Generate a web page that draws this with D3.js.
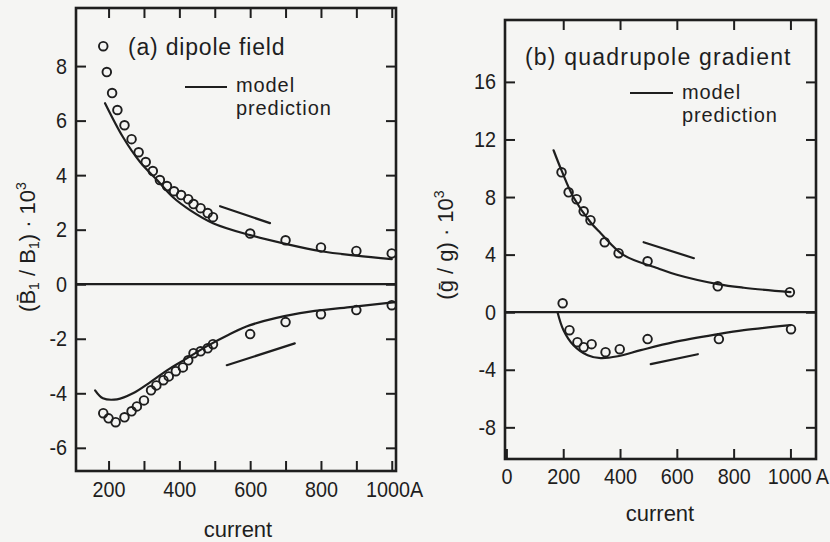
<!DOCTYPE html>
<html>
<head>
<meta charset="utf-8">
<script src="https://cdn.jsdelivr.net/npm/d3@7"></script>
<style>
  html, body { margin: 0; padding: 0; background: #f5f5f3; }
  svg { display: block; }
  text { font-family: "Liberation Sans", Arial, sans-serif; fill: #1e1e1e; }
</style>
</head>
<body>
<svg id="chart" width="830" height="542"></svg>
<script>
// ---------------- DATA ----------------
// Panel (a): dipole field
const aUpperCurrent = [185,195,210,225,245,265,285,305,325,345,365,385,405,425,440,460,480,495,600,700,800,900,1000];
const aUpperValue   = [8.73,7.78,7.01,6.39,5.83,5.32,4.84,4.48,4.15,3.82,3.60,3.41,3.27,3.12,2.94,2.79,2.61,2.46,1.86,1.61,1.35,1.22,1.13];
const aLowerCurrent = [185,200,220,245,265,280,300,320,335,355,370,390,410,425,440,460,480,495,600,700,800,900,1000];
const aLowerValue   = [-4.73,-4.92,-5.06,-4.88,-4.66,-4.48,-4.26,-3.89,-3.71,-3.52,-3.38,-3.19,-3.05,-2.79,-2.53,-2.46,-2.35,-2.20,-1.83,-1.39,-1.10,-0.95,-0.77];
const aModelUpperCurrent = [190,241,289,337,382,430,495,600,700,800,900,1000];
const aModelUpperValue   = [6.64,5.39,4.48,3.82,3.19,2.72,2.24,1.80,1.48,1.21,1.05,0.92];
const aModelLowerCurrent = [162,184,224,269,317,365,421,478,538,600,741,882,1010];
const aModelLowerValue   = [-3.89,-4.18,-4.22,-4.00,-3.60,-3.16,-2.72,-2.27,-1.86,-1.50,-1.06,-0.84,-0.66];
const aArrowUpperCurrent = [515,656];
const aArrowUpperValue   = [2.86,2.24];
const aArrowLowerCurrent = [534,726];
const aArrowLowerValue   = [-2.97,-2.17];
const aYTicks = [-6,-4,-2,0,2,4,6,8];
const aXTicks = [200,300,400,500,600,700,800,900,1000];
const aXTickLabels = {200:"200",400:"400",600:"600",800:"800",1000:"1000A"};

// Panel (b): quadrupole gradient
const bUpperCurrent = [194,219,247,272,296,346,395,497,744,998];
const bUpperValue   = [9.72,8.33,7.85,7.01,6.39,4.86,4.10,3.54,1.80,1.39];
const bLowerCurrent = [198,222,250,272,300,349,399,497,748,1002];
const bLowerValue   = [0.62,-1.25,-2.08,-2.43,-2.22,-2.78,-2.57,-1.87,-1.87,-1.18];
const bModelUpperCurrent = [166,194,236,296,332,413,533,600,744,836,1000];
const bModelUpperValue   = [11.25,9.85,7.99,6.25,5.49,3.96,3.05,2.60,1.95,1.70,1.40];
const bModelLowerCurrent = [180,201,236,286,332,392,473,589,744,836,1000];
const bModelLowerValue   = [0,-1.25,-2.29,-2.99,-3.19,-3.06,-2.64,-2.08,-1.53,-1.25,-0.90];
const bArrowUpperCurrent = [483,660];
const bArrowUpperValue   = [4.86,3.75];
const bArrowLowerCurrent = [508,674];
const bArrowLowerValue   = [-3.61,-2.92];
const bYTicks = [-8,-4,0,4,8,12,16];
const bXTicks = [0,200,400,600,800,1000];
const bXTickLabels = {0:"0",200:"200",400:"400",600:"600",800:"800",1000:"1000\u2009A"};

// ---------------- DRAW ----------------
const ink = "#1e1e1e";
const sx = 0.9; // horizontal squeeze of tick digits (narrow typeface in the original)
const svg = d3.select("#chart");

function zip(xs, ys) { return xs.map((x, i) => [x, ys[i]]); }
const fmtY = d => String(d); // plain hyphen-minus as printed

function panel(cfg) {
  const g = svg.append("g");
  const x = d3.scaleLinear().domain(cfg.xDomain).range([cfg.left, cfg.right]);
  const y = d3.scaleLinear().domain(cfg.yDomain).range([cfg.bottom, cfg.top]);

  const fmtX = d => cfg.xLabels[d] !== undefined ? cfg.xLabels[d] : "";
  const ax = [
    g.append("g").attr("transform", `translate(0,${cfg.bottom})`)
      .call(d3.axisBottom(x).tickValues(cfg.xTicks).tickSize(-cfg.tick).tickPadding(cfg.xPad).tickFormat(fmtX)),
    g.append("g").attr("transform", `translate(0,${cfg.top})`)
      .call(d3.axisTop(x).tickValues(cfg.xTicks.filter(v => v > cfg.xDomain[0] + 5)).tickSize(-cfg.tick).tickFormat("")),
    g.append("g").attr("transform", `translate(${cfg.left},0)`)
      .call(d3.axisLeft(y).tickValues(cfg.yTicks).tickSize(-cfg.tick).tickPadding(9).tickFormat(fmtY)),
    g.append("g").attr("transform", `translate(${cfg.right},0)`)
      .call(d3.axisRight(y).tickValues(cfg.yTicks).tickSize(-cfg.tick).tickFormat(""))
  ];
  ax.forEach(a => {
    a.select(".domain").remove();
    a.selectAll(".tick line").attr("stroke", ink).attr("stroke-width", 2);
    a.selectAll(".tick text").attr("font-size", 22).attr("fill", ink)
      .attr("transform", `scale(${sx},1)`)
      .style("font-family", "'Liberation Sans', Arial, sans-serif");
  });
  ax[2].selectAll(".tick text").attr("x", -9 / sx);
  ax[0].selectAll(".tick text").filter(d => d === 1000)
    .attr("text-anchor", "end").attr("x", cfg.lastRight / sx);

  // frame
  g.append("rect").attr("x", cfg.left).attr("y", cfg.top)
    .attr("width", cfg.right - cfg.left).attr("height", cfg.bottom - cfg.top)
    .attr("fill", "none").attr("stroke", ink).attr("stroke-width", 2.6);

  // zero line
  g.append("line").attr("x1", cfg.left).attr("x2", cfg.right)
    .attr("y1", y(0)).attr("y2", y(0)).attr("stroke", ink).attr("stroke-width", 2.2);

  const line = d3.line().x(d => x(d[0])).y(d => y(d[1])).curve(d3.curveCatmullRom.alpha(0.5));
  cfg.curves.forEach(c => {
    g.append("path").attr("d", line(c)).attr("fill", "none")
      .attr("stroke", ink).attr("stroke-width", 2.2).attr("stroke-linecap", "round");
  });
  cfg.arrows.forEach(c => {
    g.append("path").attr("d", d3.line().x(d => x(d[0])).y(d => y(d[1]))(c)).attr("fill", "none")
      .attr("stroke", ink).attr("stroke-width", 2.2).attr("stroke-linecap", "round");
  });
  cfg.points.forEach(p => {
    g.selectAll(null).data(p).join("circle")
      .attr("cx", d => x(d[0])).attr("cy", d => y(d[1])).attr("r", 4.3)
      .attr("fill", "none").attr("stroke", ink).attr("stroke-width", 1.9);
  });
  return {g, x, y};
}

const A = panel({
  left: 76, right: 396, top: 8, bottom: 471,
  xDomain: [108, 1012], yDomain: [-6.85, 10.13],
  xTicks: aXTicks, xLabels: aXTickLabels, yTicks: aYTicks,
  tick: 10, xPad: 10, lastRight: 31,
  curves: [zip(aModelUpperCurrent, aModelUpperValue), zip(aModelLowerCurrent, aModelLowerValue)],
  arrows: [zip(aArrowUpperCurrent, aArrowUpperValue), zip(aArrowLowerCurrent, aArrowLowerValue)],
  points: [zip(aUpperCurrent, aUpperValue), zip(aLowerCurrent, aLowerValue)]
});

const B = panel({
  left: 505, right: 816, top: 20, bottom: 459,
  xDomain: [-5, 1090], yDomain: [-10.2, 20.3],
  xTicks: bXTicks, xLabels: bXTickLabels, yTicks: bYTicks,
  tick: 10, xPad: 9, lastRight: 38,
  curves: [zip(bModelUpperCurrent, bModelUpperValue), zip(bModelLowerCurrent, bModelLowerValue)],
  arrows: [zip(bArrowUpperCurrent, bArrowUpperValue), zip(bArrowLowerCurrent, bArrowLowerValue)],
  points: [zip(bUpperCurrent, bUpperValue), zip(bLowerCurrent, bLowerValue)]
});

// ---------------- TEXT ----------------
function txt(x, y, s, size, anchor, ls) {
  return svg.append("text").attr("x", x).attr("y", y).attr("font-size", size)
    .attr("letter-spacing", ls || 0)
    .attr("text-anchor", anchor || "start").text(s);
}
// Panel a legend/title
txt(128, 55, "(a) dipole field", 23, "start", 0.8);
svg.append("line").attr("x1", 185).attr("x2", 227).attr("y1", 87).attr("y2", 87)
  .attr("stroke", ink).attr("stroke-width", 2.2);
txt(236, 92, "model", 20, "start", 0.9);
txt(236, 115, "prediction", 20, "start", 0.9);
// Panel b legend/title
txt(525, 65, "(b) quadrupole gradient", 23, "start", 1.2);
svg.append("line").attr("x1", 630).attr("x2", 673).attr("y1", 93).attr("y2", 93)
  .attr("stroke", ink).attr("stroke-width", 2.2);
txt(682, 99, "model", 20, "start", 0.9);
txt(682, 122, "prediction", 20, "start", 0.9);

// x titles
txt(238, 537, "current", 22, "middle");
txt(660, 521, "current", 22, "middle");

// y titles (rotated)
const ya = svg.append("text").attr("transform", "translate(35,247) rotate(-90)")
  .attr("text-anchor", "middle").attr("font-size", 22);
ya.append("tspan").text("(B\u0304");
ya.append("tspan").attr("font-size", 14).attr("dy", 4).text("1");
ya.append("tspan").attr("dy", -4).text(" / B");
ya.append("tspan").attr("font-size", 14).attr("dy", 4).text("1");
ya.append("tspan").attr("dy", -4).text(") \u00B7 10");
ya.append("tspan").attr("font-size", 14).attr("dy", -9).text("3");

const yb = svg.append("text").attr("transform", "translate(453,245) rotate(-90)")
  .attr("text-anchor", "middle").attr("font-size", 22);
yb.append("tspan").text("(\u1E21 / g) \u00B7 10");
yb.append("tspan").attr("font-size", 14).attr("dy", -9).text("3");
</script>
</body>
</html>
